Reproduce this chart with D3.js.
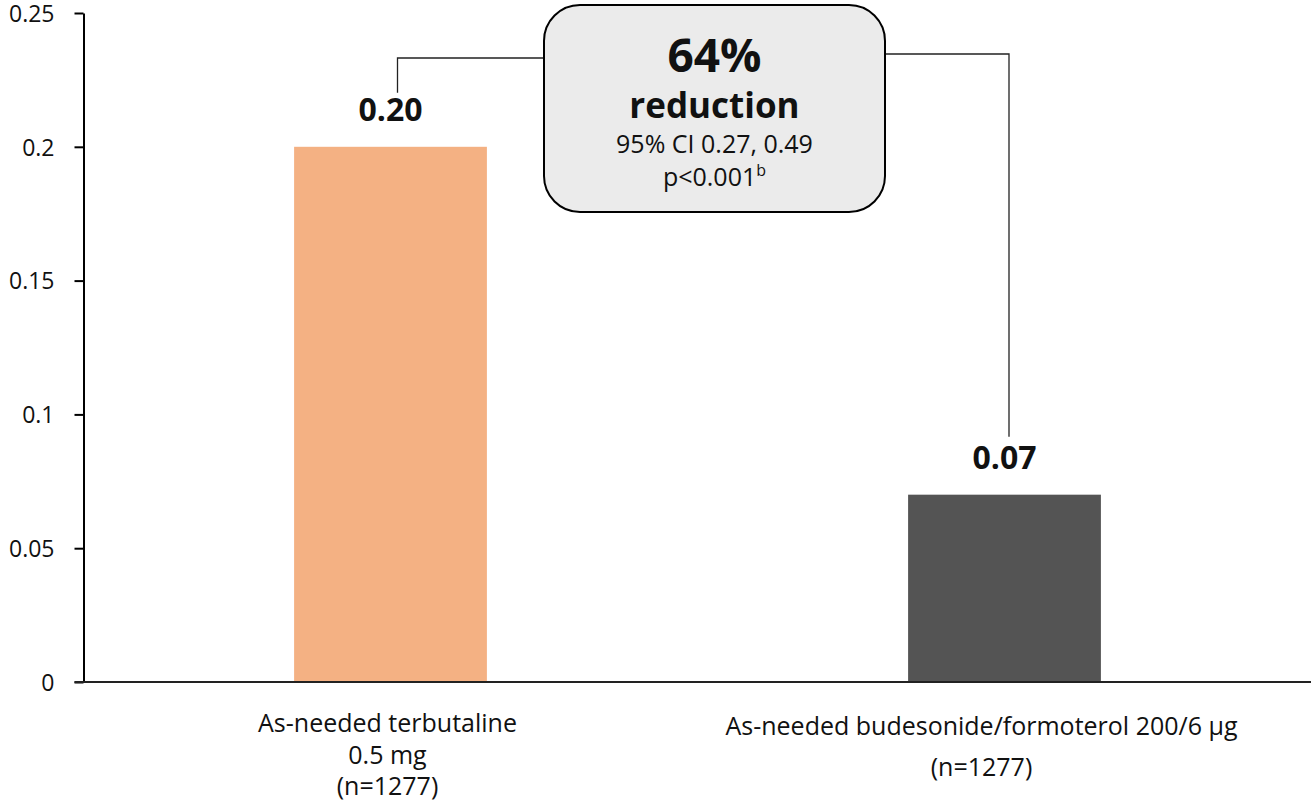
<!DOCTYPE html>
<html>
<head>
<meta charset="utf-8">
<script src="https://cdn.jsdelivr.net/npm/d3@7"></script>
<style>
  body { margin: 0; background: #fff; }
  svg { display: block; font-family: "Open Sans", "Noto Sans", sans-serif; }
</style>
</head>
<body>
<svg width="1311" height="807"></svg>
<script>
// data
const categories = ["terbutaline", "budesonide"];
const values = [0.20, 0.07];
const valueLabels = ["0.20", "0.07"];
const colors = ["#F4B183", "#545454"];
const catLabels = [
  ["As-needed terbutaline", "0.5 mg", "(n=1277)"],
  ["As-needed budesonide/formoterol 200/6 µg", "(n=1277)"]
];
const yTicks = [0, 0.05, 0.1, 0.15, 0.2, 0.25];
const yTickLabels = ["0", "0.05", "0.1", "0.15", "0.2", "0.25"];
const boxLines = ["64%", "reduction", "95% CI 0.27, 0.49", "p<0.001"];

const svg = d3.select("svg");
const plotLeft = 83.5, plotRight = 1311.5, plotTop = 13, plotBottom = 682;

const x = d3.scaleBand()
  .domain(categories)
  .range([plotLeft, plotRight])
  .paddingInner(0.686)
  .paddingOuter(0.343);

const y = d3.scaleLinear().domain([0, 0.25]).range([plotBottom, plotTop]);

// bars
svg.selectAll("rect.bar")
  .data(values)
  .enter().append("rect")
  .attr("class", "bar")
  .attr("x", (d, i) => x(categories[i]))
  .attr("width", x.bandwidth())
  .attr("y", d => y(d))
  .attr("height", d => y(0) - y(d))
  .attr("fill", (d, i) => colors[i]);

// y axis
const yAxis = svg.append("g")
  .attr("transform", `translate(${plotLeft},0)`)
  .call(d3.axisLeft(y).tickValues(yTicks)
    .tickFormat((d, i) => yTickLabels[i]).tickSize(9).tickSizeOuter(0).tickPadding(20));
yAxis.select(".domain").attr("stroke", "#000").attr("stroke-width", 2);
yAxis.selectAll(".tick line").attr("stroke", "#000").attr("stroke-width", 2);
yAxis.selectAll(".tick text").attr("font-size", 23).attr("fill", "#111")
  .attr("font-family", "Open Sans, sans-serif").attr("dy", "0.36em");

// x axis line
svg.append("line")
  .attr("x1", plotLeft - 9).attr("x2", 1311)
  .attr("y1", y(0)).attr("y2", y(0))
  .attr("stroke", "#222").attr("stroke-width", 2);

// category labels
const catY = [[732, 764, 795], [735, 776]];
const catShift = [-3, -23];
catLabels.forEach((lines, i) => {
  const cx = x(categories[i]) + x.bandwidth() / 2 + catShift[i];
  lines.forEach((t, j) => {
    svg.append("text")
      .attr("x", cx).attr("y", catY[i][j])
      .attr("text-anchor", "middle")
      .attr("font-size", 25).attr("fill", "#111")
      .text(t);
  });
});

// value labels
svg.selectAll("text.val")
  .data(values)
  .enter().append("text")
  .attr("class", "val")
  .attr("x", (d, i) => x(categories[i]) + x.bandwidth() / 2)
  .attr("y", d => y(d) - 26)
  .attr("text-anchor", "middle")
  .attr("font-size", 32).attr("font-weight", "bold").attr("fill", "#111")
  .text((d, i) => valueLabels[i]);

// connector lines
const c1x = x(categories[0]) + x.bandwidth() / 2 + 7;
const c2x = x(categories[1]) + x.bandwidth() / 2 + 4.5;
const boxX0 = 544, boxX1 = 885, boxY0 = 5, boxY1 = 212;
svg.append("path")
  .attr("d", `M${boxX0},58 H${c1x} V${y(values[0]) - 54}`)
  .attr("fill", "none").attr("stroke", "#222").attr("stroke-width", 1.3);
svg.append("path")
  .attr("d", `M${boxX1},54 H${c2x} V${y(values[1]) - 58}`)
  .attr("fill", "none").attr("stroke", "#222").attr("stroke-width", 1.3);

// annotation box
svg.append("rect")
  .attr("x", boxX0).attr("y", boxY0)
  .attr("width", boxX1 - boxX0).attr("height", boxY1 - boxY0)
  .attr("rx", 36).attr("ry", 36)
  .attr("fill", "#EBEBEB").attr("stroke", "#000").attr("stroke-width", 2);

const bcx = (boxX0 + boxX1) / 2;
svg.append("text").attr("x", bcx).attr("y", 72).attr("text-anchor", "middle")
  .attr("font-size", 46).attr("font-weight", "bold").attr("fill", "#111").text(boxLines[0]);
svg.append("text").attr("x", bcx).attr("y", 118).attr("text-anchor", "middle")
  .attr("font-size", 35).attr("font-weight", "bold").attr("fill", "#111").text(boxLines[1]);
svg.append("text").attr("x", bcx).attr("y", 153).attr("text-anchor", "middle")
  .attr("font-size", 25).attr("fill", "#111").text(boxLines[2]);
const pt = svg.append("text").attr("x", bcx).attr("y", 186).attr("text-anchor", "middle")
  .attr("font-size", 25).attr("fill", "#111").text(boxLines[3]);
pt.append("tspan").attr("font-size", 16).attr("dy", -10).text("b");
</script>
</body>
</html>
